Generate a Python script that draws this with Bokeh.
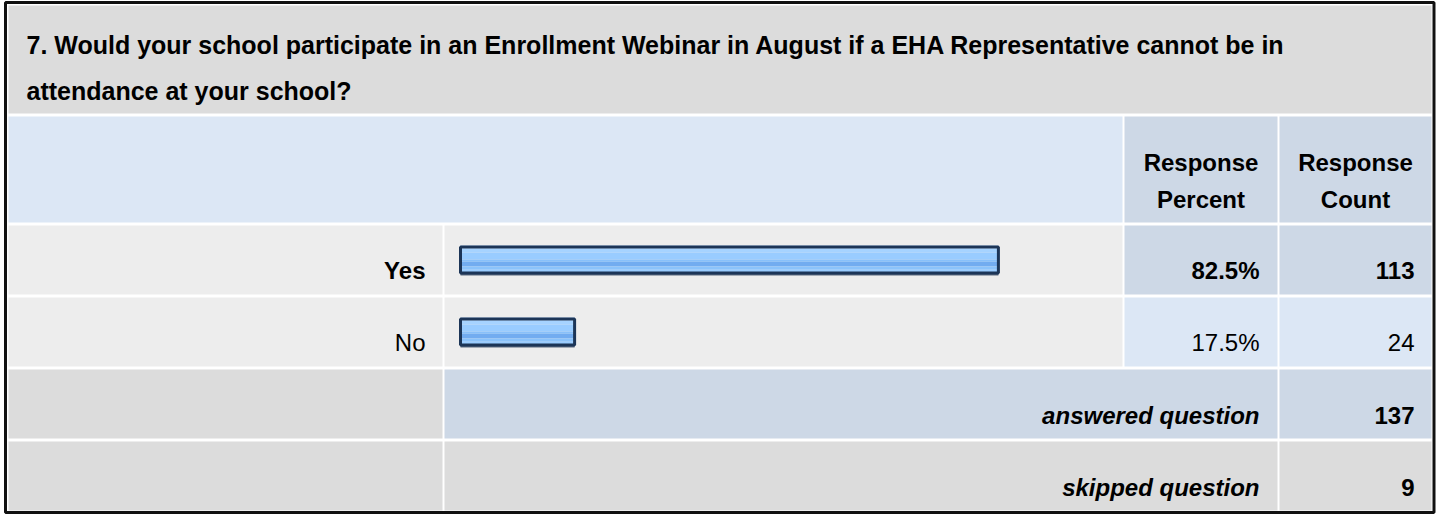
from bokeh.plotting import figure
from bokeh.models import Range1d
from bokeh.core.properties import value
from bokeh.embed import file_html
from bokeh.resources import INLINE

# ---------------- data ----------------
title_lines = [
    "7. Would your school participate in an Enrollment Webinar in August if a EHA Representative cannot be in",
    "attendance at your school?",
]
header_pct = ["Response", "Percent"]
header_cnt = ["Response", "Count"]
answers = ["Yes", "No"]
percents = [82.5, 17.5]
counts = [113, 24]
summary_labels = ["answered question", "skipped question"]
summary_values = [137, 9]

# ---------------- layout (pixels) ----------------
W, H = 1437, 515
FONT = value("Liberation Sans")
FS = "24px"

col_label = (8, 442)
col_bar = (444, 1122)
col_pct = (1124, 1277)
col_cnt = (1279, 1431)
row_title = (5, 113)
row_header = (116, 222)
rows_ans = [(225, 294), (297, 366)]
rows_sum = [(369, 438), (441, 510)]

GRAY = "#dcdcdc"
LIGHT = "#ededed"
BLUE_L = "#dce7f5"
BLUE_D = "#cdd8e6"

p = figure(width=W, height=H, x_range=Range1d(0, W), y_range=Range1d(H, 0),
           output_backend="svg", toolbar_location=None, min_border=0,
           background_fill_color="white", border_fill_color="white")
p.axis.visible = False
p.grid.visible = False
p.outline_line_color = None

# bar scale: 0 % -> x=460, 100 % -> x=1112
bar_x0, bar_x100 = 460.0, 1112.0
ppu = (bar_x100 - bar_x0) / 100.0
p.extra_x_ranges = {"pct": Range1d(-bar_x0 / ppu, (W - bar_x0) / ppu)}


def cell(x, y, color):
    p.quad(left=[x[0]], right=[x[1]], top=[y[0]], bottom=[y[1]],
           fill_color=color, line_color=None)


# title row
cell((col_label[0], col_cnt[1]), row_title, GRAY)
# header row
cell((col_label[0], col_bar[1]), row_header, BLUE_L)
cell(col_pct, row_header, BLUE_D)
cell(col_cnt, row_header, BLUE_D)

top_idx = counts.index(max(counts))
for i, r in enumerate(rows_ans):
    cell(col_label, r, LIGHT)
    cell(col_bar, r, LIGHT)
    c = BLUE_D if i == top_idx else BLUE_L
    cell(col_pct, r, c)
    cell(col_cnt, r, c)

# summary rows
cell(col_label, rows_sum[0], GRAY)
cell((col_bar[0], col_pct[1]), rows_sum[0], BLUE_D)
cell(col_cnt, rows_sum[0], BLUE_D)
cell(col_label, rows_sum[1], GRAY)
cell((col_bar[0], col_pct[1]), rows_sum[1], GRAY)
cell(col_cnt, rows_sum[1], GRAY)

# outer frame
p.quad(left=[5], right=[1433.5], top=[2], bottom=[512], fill_color=None,
       line_color="#111111", line_width=3)

# ---------------- bars ----------------
centers = [(a + b) / 2 for a, b in rows_ans]
BH = 29.0
stripes = [  # (from, to) fraction of bar height, colour
    (0.00, 0.12, "#bcdeff"),
    (0.12, 0.24, "#a6d3ff"),
    (0.24, 0.48, "#99ccff"),
    (0.48, 0.56, "#88c0fa"),
    (0.56, 0.72, "#72acf0"),
    (0.72, 0.84, "#8bc3fb"),
    (0.84, 1.00, "#99ccff"),
]
zeros = [0] * len(percents)
for f0, f1, col in stripes:
    p.quad(left=zeros, right=percents,
           top=[c - BH / 2 + f0 * BH for c in centers],
           bottom=[c - BH / 2 + f1 * BH for c in centers],
           fill_color=col, line_color=None, x_range_name="pct")
# soft shadow below bar
p.quad(left=zeros, right=percents,
       top=[c + BH / 2 - 1 for c in centers], bottom=[c + BH / 2 + 1 for c in centers],
       fill_color="#5a6a80", line_color=None, x_range_name="pct")
p.quad(left=zeros, right=percents,
       top=[c - BH / 2 + 1.5 for c in centers], bottom=[c + BH / 2 - 1.5 for c in centers],
       fill_color=None, line_color="#1c3557", line_width=3, x_range_name="pct")

# ---------------- texts ----------------
def txt(x, y, s, align="left", style="normal", size=FS):
    p.text(x=[x], y=[y], text=[s], text_font=FONT, text_font_size=size,
           text_font_style=style, text_align=align, text_baseline="alphabetic",
           text_color="#000000")


txt(26, 44, title_lines[0], style="bold", size="25px")
txt(26, 90, title_lines[1], style="bold", size="25px")

pc = (col_pct[0] + col_pct[1]) / 2
cc = (col_cnt[0] + col_cnt[1]) / 2
txt(pc, 162, header_pct[0], "center", "bold")
txt(pc, 199, header_pct[1], "center", "bold")
txt(cc, 162, header_cnt[0], "center", "bold")
txt(cc, 199, header_cnt[1], "center", "bold")

for i, (a, pv, cv) in enumerate(zip(answers, percents, counts)):
    st = "bold" if i == top_idx else "normal"
    yb = centers[i] + 10
    txt(425, yb, a, "right", st)
    txt(1259, yb, f"{pv:.1f}%", "right", st)
    txt(1414, yb, str(cv), "right", st)

for i, (lab, v) in enumerate(zip(summary_labels, summary_values)):
    yb = (rows_sum[i][0] + rows_sum[i][1]) / 2 + 11
    txt(1259, yb, lab, "right", "bold italic")
    txt(1414, yb, str(v), "right", "bold")

open("out.html", "w").write(file_html(p, INLINE))
